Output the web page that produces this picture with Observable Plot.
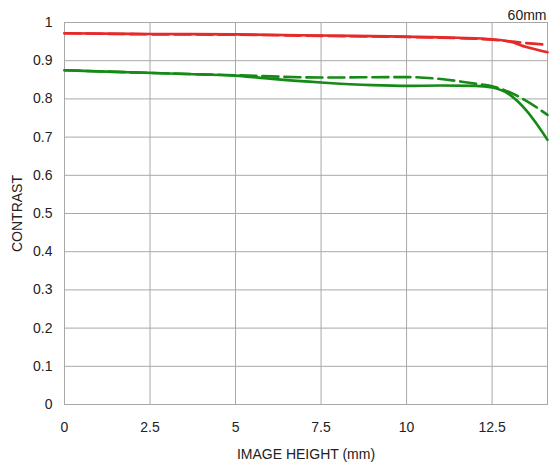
<!DOCTYPE html>
<html><head><meta charset="utf-8">
<script src="https://cdn.jsdelivr.net/npm/d3@7"></script>
<script src="https://cdn.jsdelivr.net/npm/@observablehq/plot@0.6"></script>
<style>body{margin:0;background:#fff;} svg{display:block;}</style>
</head><body><div id="chart"></div>
<script>
const xTicks = [0, 2.5, 5, 7.5, 10, 12.5];
const yTicks = [0, 0.1, 0.2, 0.3, 0.4, 0.5, 0.6, 0.7, 0.8, 0.9, 1];

const redSolidX = [0, 2.5, 5, 7.5, 10, 11.5, 12.5, 13, 13.5, 14.12];
const redSolidY = [0.972, 0.970, 0.969, 0.966, 0.963, 0.960, 0.956, 0.950, 0.936, 0.922];
const redDashX  = [0, 2.5, 5, 7.5, 10, 11.5, 12.5, 13, 13.5, 14.12];
const redDashY  = [0.972, 0.969, 0.968, 0.965, 0.962, 0.959, 0.955, 0.951, 0.946, 0.942];

const greenSolidX = [0, 1, 2.5, 4, 5, 6, 7.5, 9, 10, 11, 12, 12.5, 13, 13.5, 13.8, 14.12];
const greenSolidY = [0.875, 0.872, 0.868, 0.864, 0.861, 0.853, 0.843, 0.836, 0.834, 0.835, 0.834, 0.830, 0.812, 0.770, 0.735, 0.693];
const greenDashX  = [0, 2.5, 5, 7.5, 10, 11, 12, 12.5, 13, 13.5, 14.12];
const greenDashY  = [0.875, 0.868, 0.862, 0.856, 0.857, 0.852, 0.840, 0.833, 0.818, 0.795, 0.758];

const toRows = (xs, ys) => xs.map((x, i) => ({x, y: ys[i]}));
const RED = "#e42a2a", GREEN = "#168a16";

const chart = Plot.plot({
  width: 550, height: 466,
  marginLeft: 64, marginRight: 3, marginTop: 22, marginBottom: 62,
  style: {fontFamily: "'Liberation Sans', Arial, sans-serif", fontSize: "14px", color: "#222", background: "#fff"},
  x: {domain: [0, 14.12], ticks: xTicks, tickFormat: d => String(d), label: "IMAGE HEIGHT (mm)", labelArrow: "none", labelAnchor: "center", labelOffset: 54, tickSize: 0, tickPadding: 18},
  y: {domain: [0, 1], ticks: yTicks, tickFormat: d => String(+d.toFixed(1)), label: "CONTRAST", labelArrow: "none", labelAnchor: "center", labelOffset: 52, tickSize: 0, tickPadding: 12},
  marks: [
    Plot.gridX(xTicks, {stroke: "#a8a8a8", strokeOpacity: 1, strokeWidth: 1}),
    Plot.gridY(yTicks, {stroke: "#a8a8a8", strokeOpacity: 1, strokeWidth: 1}),
    Plot.frame({stroke: "#a8a8a8"}),
    Plot.line(toRows(redDashX, redDashY), {x: "x", y: "y", stroke: RED, strokeWidth: 2.6, strokeDasharray: "16,6", curve: "monotone-x"}),
    Plot.line(toRows(redSolidX, redSolidY), {x: "x", y: "y", stroke: RED, strokeWidth: 2.6, curve: "monotone-x"}),
    Plot.line(toRows(greenDashX, greenDashY), {x: "x", y: "y", stroke: GREEN, strokeWidth: 2.6, strokeDasharray: "16,6", curve: "monotone-x"}),
    Plot.line(toRows(greenSolidX, greenSolidY), {x: "x", y: "y", stroke: GREEN, strokeWidth: 2.6, curve: "monotone-x"}),
    Plot.text(["60mm"], {frameAnchor: "top-right", dy: -12, dx: -1, textAnchor: "end", fontSize: 14, fill: "#222"})
  ]
});
document.getElementById("chart").append(chart);
</script>
</body></html>
